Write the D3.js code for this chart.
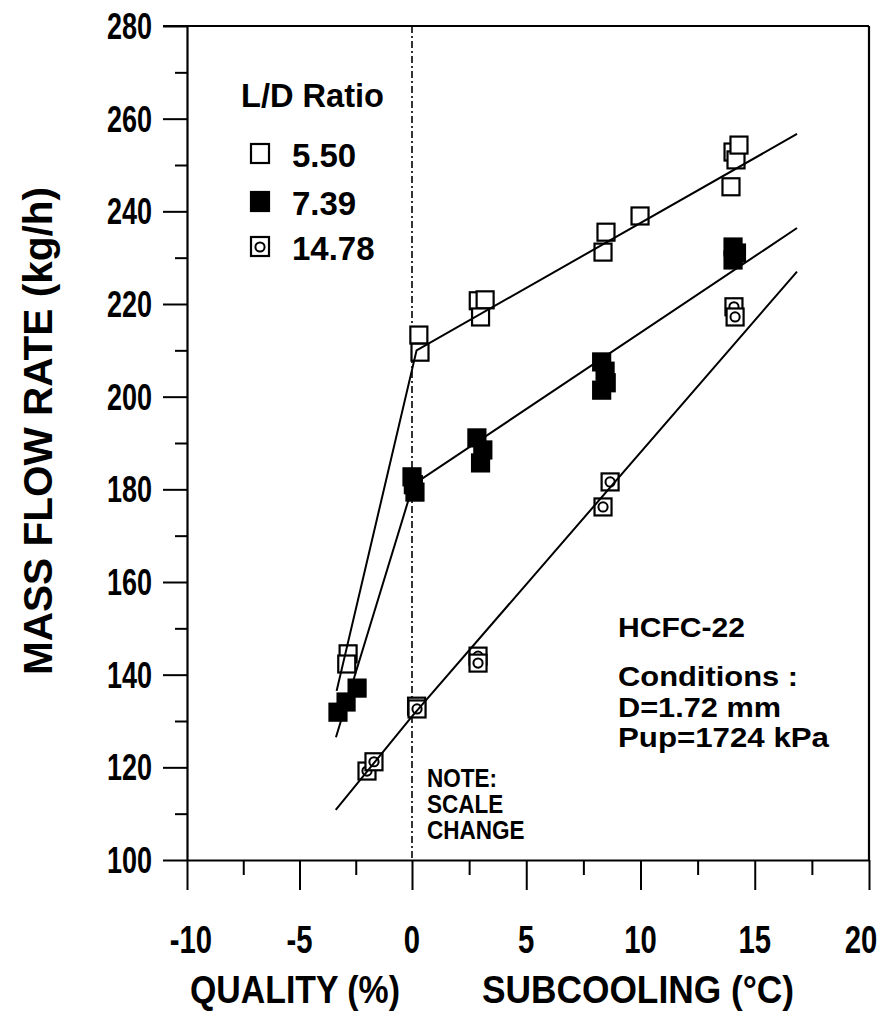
<!DOCTYPE html>
<html><head><meta charset="utf-8">
<script src="https://cdn.jsdelivr.net/npm/d3@7"></script>
<style>
body{margin:0;background:#fff}
text{font-family:"Liberation Sans",Arial,Helvetica,sans-serif;font-weight:bold;fill:#000}
</style>
</head><body><svg id="c" width="890" height="1019"></svg>
<script>
// ---- data ----
const seriesNames = ["5.50", "7.39", "14.78"];
const ld550 = [[-2.84,144.5],[-2.9,142.3],[0.3,213.3],[0.35,209.6],[2.9,220.7],[3.2,220.9],[3.0,217.2],[8.36,231.2],[8.49,235.5],[9.98,239],[13.96,245.3],[14.05,252.8],[14.18,251.1],[14.31,254.3]];
const ld739 = [[-2.44,137.1],[-2.93,134.1],[-3.29,131.9],[0.0,182.7],[0.13,179.4],[0.06,181],[2.84,191.1],[3.1,188.5],[3.0,185.7],[8.3,207.5],[8.45,205.5],[8.5,203],[8.3,201.4],[14.05,232.3],[14.05,229.5],[14.2,231]];
const ld1478 = [[-2.0,119.2],[-1.69,121.2],[0.2,133.2],[0.22,132.6],[2.89,144],[2.89,142.5],[8.67,181.6],[8.36,176.2],[14.09,219.4],[14.14,217.2]];
const fit550 = [[-3.35,136.5],[0.2,210],[16.85,256.7]];
const fit739 = [[-3.38,126.5],[0.05,181],[16.85,236.4]];
const fit1478 = [[-3.39,110.8],[0,131],[16.85,227]];
const xTicks = [-10,-5,0,5,10,15,20];
const xMinor = [-7.5,-2.5,2.5,7.5,12.5,17.5];
const yTicks = [100,120,140,160,180,200,220,240,260,280];
const yMinor = [110,130,150,170,190,210,230,250,270];

// ---- scales ----
const svg = d3.select("#c");
const x = d3.scaleLinear().domain([-10,0,20]).range([187,412,869]);
const y = d3.scaleLinear().domain([100,280]).range([860,26]);
const X0 = x(-10), X1 = x(20), Y0 = y(100), Y1 = y(280);

// ---- frame ----
svg.append("line").attr("x1",163).attr("x2",X1).attr("y1",Y1).attr("y2",Y1).attr("stroke","#000").attr("stroke-width",2.2);
svg.append("line").attr("x1",X1).attr("x2",X1).attr("y1",Y1).attr("y2",Y0).attr("stroke","#000").attr("stroke-width",2.2);

// y axis
const gy = svg.append("g").attr("transform",`translate(${X0},0)`).call(d3.axisLeft(y).tickValues(yTicks).tickSize(24).tickSizeOuter(0).tickFormat(""));
gy.select(".domain").attr("stroke-width",2.2);
gy.selectAll(".tick line").attr("stroke-width",2);
const gym = svg.append("g").attr("transform",`translate(${X0},0)`).call(d3.axisLeft(y).tickValues(yMinor).tickSize(12).tickFormat(""));
gym.select(".domain").remove();
gym.selectAll(".tick line").attr("stroke-width",2);
svg.append("g").selectAll("text").data(yTicks).join("text")
  .attr("transform",d=>`translate(152,${y(d)+13}) scale(0.75,1)`)
  .attr("text-anchor","end").attr("font-size",36).text(d=>d);

// x axis
const gx = svg.append("g").attr("transform",`translate(0,${Y0})`).call(d3.axisBottom(x).tickValues(xTicks).tickSize(30).tickSizeOuter(0).tickFormat(""));
gx.select(".domain").attr("stroke-width",2.2);
gx.selectAll(".tick line").attr("stroke-width",2);
const gxm = svg.append("g").attr("transform",`translate(0,${Y0})`).call(d3.axisBottom(x).tickValues(xMinor).tickSize(15).tickFormat(""));
gxm.select(".domain").remove();
gxm.selectAll(".tick line").attr("stroke-width",2);
svg.append("g").selectAll("text").data(xTicks).join("text")
  .attr("transform",(d,i)=>`translate(${x(d)-(i===xTicks.length-1?8:(i===0?-4:0))},953) scale(0.75,1)`)
  .attr("text-anchor","middle").attr("font-size",39).text(d=>d);

// scale change line
svg.append("line").attr("x1",x(0)).attr("x2",x(0)).attr("y1",Y1).attr("y2",Y0)
  .attr("stroke","#000").attr("stroke-width",1.6).attr("stroke-dasharray","7,3,2,3");

// axis titles
svg.append("text").attr("x",190).attr("y",1003).attr("font-size",38).attr("textLength",210).attr("lengthAdjust","spacingAndGlyphs").text("QUALITY (%)");
svg.append("text").attr("x",482).attr("y",1003).attr("font-size",38).attr("textLength",312).attr("lengthAdjust","spacingAndGlyphs").text("SUBCOOLING (°C)");
svg.append("text").attr("transform","translate(52,431) rotate(-90)").attr("text-anchor","middle").attr("font-size",40).attr("textLength",488).attr("lengthAdjust","spacingAndGlyphs").text("MASS FLOW RATE (kg/h)");

// ---- markers ----
const S = 17;
function drawMarkers(data, kind){
  const g = svg.append("g");
  const m = g.selectAll("g").data(data).join("g").attr("transform",d=>`translate(${x(d[0])},${y(d[1])})`);
  m.append("rect").attr("x",-S/2).attr("y",-S/2).attr("width",S).attr("height",S)
    .attr("fill",kind==="filled"?"#000":"#fff").attr("stroke","#000").attr("stroke-width",2.2);
  if(kind==="circle") m.append("circle").attr("r",4.6).attr("fill","none").attr("stroke","#000").attr("stroke-width",2);
}
drawMarkers(ld550,"open");
drawMarkers(ld1478,"circle");
drawMarkers(ld739,"filled");

// ---- fit lines ----
const line = d3.line().x(d=>x(d[0])).y(d=>y(d[1]));
[fit550, fit739, fit1478].forEach(f=>{
  svg.append("path").attr("d",line(f)).attr("fill","none").attr("stroke","#000").attr("stroke-width",2);
});

// ---- legend ----
svg.append("text").attr("x",241).attr("y",107).attr("font-size",33).attr("textLength",143).attr("lengthAdjust","spacingAndGlyphs").text("L/D Ratio");
const legY = [154,202,247];
const kinds = ["open","filled","circle"];
seriesNames.forEach((n,i)=>{
  const g = svg.append("g").attr("transform",`translate(260,${legY[i]})`);
  g.append("rect").attr("x",-9).attr("y",-10).attr("width",18).attr("height",19)
    .attr("fill",kinds[i]==="filled"?"#000":"#fff").attr("stroke","#000").attr("stroke-width",2.2);
  if(kinds[i]==="circle") g.append("circle").attr("r",4.6).attr("fill","none").attr("stroke","#000").attr("stroke-width",2);
  svg.append("text").attr("x",292).attr("y",legY[i]+13).attr("font-size",33).text(n);
});

// ---- annotations ----
const note = ["NOTE:","SCALE","CHANGE"];
const noteY = [787,813,839];
note.forEach((t,i)=>{
  svg.append("text").attr("transform",`translate(427,${noteY[i]}) scale(0.9,1)`).attr("font-size",25).text(t);
});
const cond = ["HCFC-22","Conditions :","D=1.72 mm","Pup=1724 kPa"];
const condY = [637,686,717,747];
const condW = [127,180,163,211];
cond.forEach((t,i)=>{
  svg.append("text").attr("x",618).attr("y",condY[i]).attr("font-size",28)
    .attr("textLength",condW[i]).attr("lengthAdjust","spacingAndGlyphs").text(t);
});
</script>
</body></html>
